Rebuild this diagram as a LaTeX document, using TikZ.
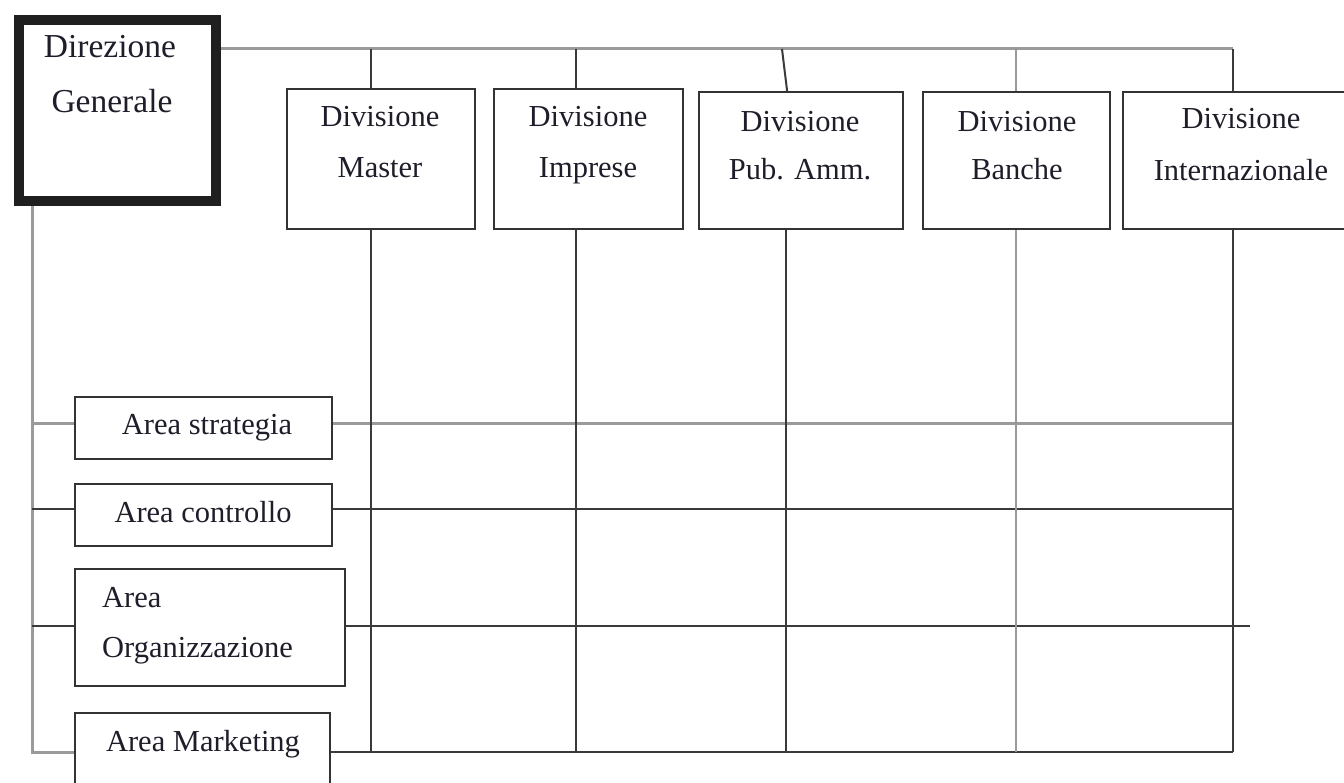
\documentclass[tikz,border=0pt]{standalone}
\usepackage{fontspec}
\setmainfont{Liberation Serif}
\usetikzlibrary{backgrounds}
\definecolor{boxc}{HTML}{333333}
\definecolor{txtc}{HTML}{1E1E2A}
\definecolor{grayc}{HTML}{9A9A9A}
\definecolor{darkc}{HTML}{3A3A3A}
\begin{document}
\begin{tikzpicture}[x=1pt,y=-1pt,
  box/.style={draw=boxc, line width=2.2pt, inner sep=0pt, anchor=north west, fill=white},
  lbl/.style={anchor=base, inner sep=0pt, text=txtc, font=\fontsize{30.5}{36}\selectfont},
  lblbig/.style={lbl, font=\fontsize{33.5}{40}\selectfont},
  gline/.style={draw=grayc, line width=3pt},
  gthin/.style={draw=grayc, line width=2.4pt},
  dline/.style={draw=darkc, line width=2pt}]
\useasboundingbox (0,0) rectangle (1344,783);
\clip (0,0) rectangle (1344,783);

% junction coordinates
\coordinate (cM) at (371,49);
\coordinate (cI) at (576,49);
\coordinate (cP) at (782,49);
\coordinate (cB) at (1016,49);
\coordinate (cN) at (1233,49);
\coordinate (cL) at (32,49);
\coordinate (L1) at (32,423);
\coordinate (L2) at (32,509);
\coordinate (L3) at (32,626);
\coordinate (L4) at (32,752);
\coordinate (orgEnd) at (1250,626);

% boxes
\node[box, draw=black!88, line width=10pt, minimum width=197pt, minimum height=181pt] (dg) at (14,15) {};
\node[box, minimum width=188pt, minimum height=140pt] (master) at (286,88) {};
\node[box, minimum width=189pt, minimum height=140pt] (imprese) at (493,88) {};
\node[box, minimum width=204pt, minimum height=137pt] (pub) at (698,91) {};
\node[box, minimum width=187pt, minimum height=137pt] (banche) at (922,91) {};
\node[box, minimum width=238pt, minimum height=137pt] (intern) at (1122,91) {};
\node[box, minimum width=257pt, minimum height=62pt] (strat) at (74,396) {};
\node[box, minimum width=257pt, minimum height=62pt] (contr) at (74,483) {};
\node[box, minimum width=270pt, minimum height=117pt] (organ) at (74,568) {};
\node[box, minimum width=255pt, minimum height=100pt] (market) at (74,712) {};

% connectors, behind the boxes
\begin{scope}[on background layer]
\fill[white] (0,0) rectangle (1344,783);
\draw[gline] (dg.east |- cN) -- (cN);
\draw[dline] (cN) -- (cN |- intern.north);
\draw[dline] (cM) -- (cM |- master.north);
\draw[dline] (cI) -- (cI |- imprese.north);
\draw[dline] (cP) -- ([xshift=-14pt]pub.north);
\draw[gthin] (cB) -- (cB |- banche.north);

\draw[gline] (cL |- dg.south) -- (L4) -- (L4 -| market.west);
\draw[gline] (L1) -- (L1 -| strat.west);
\draw[gline] (L1 -| strat.east) -- (L1 -| cN);
\draw[dline] (L2) -- (L2 -| contr.west);
\draw[dline] (L2 -| contr.east) -- (L2 -| cN);
\draw[dline] (L3) -- (L3 -| organ.west);
\draw[dline] (L3 -| organ.east) -- (orgEnd);
\draw[dline] (L4 -| market.east) -- (L4 -| cN);

\draw[dline] (cM |- master.south) -- (cM |- L4);
\draw[dline] (cI |- imprese.south) -- (cI |- L4);
\draw[dline] ([xshift=-15pt]pub.south) -- ([xshift=-15pt]pub.south |- L4);
\draw[gthin] (cB |- banche.south) -- (cB |- L4);
\draw[dline] (cN |- intern.south) -- (cN |- L4);
\end{scope}

% texts
\node[lblbig] (t1) at (110,58) {Direzione};
\node[lblbig] (t2) at (112,113) {Generale};
\node[lbl] (t3) at (380,127) {Divisione};
\node[lbl] (t4) at (380,178) {Master};
\node[lbl] (t5) at (588,127) {Divisione};
\node[lbl] (t6) at (588,178) {Imprese};
\node[lbl] (t7) at (800,132) {Divisione};
\node[lbl] (t8) at (800,180) {Pub. Amm.};
\node[lbl] (t9) at (1017,132) {Divisione};
\node[lbl] (t10) at (1017,180) {Banche};
\node[lbl] (t11) at (1241,129) {Divisione};
\node[lbl] (t12) at (1241,181) {Internazionale};
\node[lbl] (t13) at (207,434) {Area strategia};
\node[lbl] (t14) at (203,522) {Area controllo};
\node[lbl, anchor=base west] (t15) at (102,607) {Area};
\node[lbl, anchor=base west] (t16) at (102,657) {Organizzazione};
\node[lbl] (t17) at (203,751) {Area Marketing};
\end{tikzpicture}
\end{document}
